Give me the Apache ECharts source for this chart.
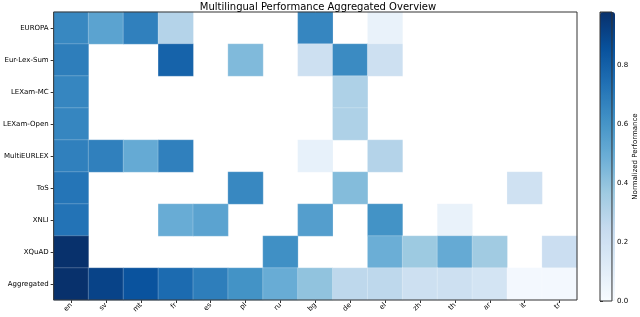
<!DOCTYPE html>
<html><head><meta charset="utf-8">
<script src="https://cdn.jsdelivr.net/npm/echarts@6/dist/echarts.min.js"></script>
<style>html,body{margin:0;padding:0;background:#fff}#c{width:640px;height:317px}</style>
</head><body><div id="c"></div>
<script>
const languages = ['en','sv','mt','fr','es','pl','ru','bg','de','el','zh','th','ar','it','tr'];
const tasks = ['EUROPA','Eur-Lex-Sum','LEXam-MC','LEXam-Open','MultiEURLEX','ToS','XNLI','XQuAD','Aggregated'];
// null = no value (blank cell)
const EUROPA      = [0.65,0.54,0.68,0.30,null,null,null,0.66,null,0.07,null,null,null,null,null];
const EurLexSum   = [0.69,null,null,0.79,null,0.44,null,0.21,0.64,0.21,null,null,null,null,null];
const LEXamMC     = [0.66,null,null,null,null,null,null,null,0.32,null,null,null,null,null,null];
const LEXamOpen   = [0.66,null,null,null,null,null,null,null,0.32,null,null,null,null,null,null];
const MultiEURLEX = [0.68,0.68,0.51,0.68,null,null,null,0.08,null,0.30,null,null,null,null,null];
const ToS         = [0.72,null,null,null,null,0.65,null,null,0.43,null,null,null,null,0.20,null];
const XNLI        = [0.73,null,null,0.50,0.54,null,null,0.56,null,0.61,null,0.07,null,null,null];
const XQuAD       = [0.98,null,null,null,null,null,0.62,null,null,0.49,0.37,0.51,0.36,null,0.22];
const Aggregated  = [0.98,0.91,0.85,0.76,0.69,0.61,0.50,0.40,0.27,0.27,0.21,0.21,0.18,0.02,0.02];
const rows = [EUROPA,EurLexSum,LEXamMC,LEXamOpen,MultiEURLEX,ToS,XNLI,XQuAD,Aggregated];
const colorTicks = [0.0,0.2,0.4,0.6,0.8];
const vmax = 0.982;

const data = [];
rows.forEach((r, yi) => r.forEach((v, xi) => { if (v !== null) data.push([xi, yi, v]); }));

const blues = ['#f7fbff','#deebf7','#c6dbef','#9ecae1','#6baed6','#4292c6','#2171b5','#08519c','#08306b'];
const font = 'DejaVu Sans';
const chart = echarts.init(document.getElementById('c'));
chart.setOption({
  animation: false,
  textStyle: {fontFamily: font},
  title: {text: 'Multilingual Performance Aggregated Overview', left: 313, textAlign: 'center', top: -3,
    textStyle: {fontFamily: font, fontSize: 10, fontWeight: 'normal', color: '#000'}},
  grid: [
    {left: 50, right: 63, top: 12, bottom: 17, show: true, borderColor: '#333', borderWidth: 1, z: 5, backgroundColor: 'transparent'},
    {left: 600, width: 15, top: 12, bottom: 16, show: true, borderColor: '#333', borderWidth: 1, backgroundColor: 'transparent', z: 5}
  ],
  xAxis: [
    {type: 'category', data: languages, gridIndex: 0, splitArea: {show: false},
      axisLine: {show: false}, axisTick: {show: true, alignWithLabel: true, length: 3, lineStyle: {color: '#333'}},
      axisLabel: {rotate: 45, fontSize: 7, color: '#000', margin: 4, fontFamily: font, interval: 0}},
    {type: 'value', gridIndex: 1, show: false, min: 0, max: 1}
  ],
  yAxis: [
    {type: 'category', data: tasks, inverse: true, gridIndex: 0,
      axisLine: {show: false}, axisTick: {show: true, alignWithLabel: true, length: 3, lineStyle: {color: '#333'}},
      axisLabel: {fontSize: 7, color: '#000', margin: 5, fontFamily: font, interval: 0}},
    {type: 'value', gridIndex: 1, position: 'right', min: 0, max: vmax, interval: 0.2,
      axisLine: {show: false}, splitLine: {show: false},
      axisTick: {show: true, length: 3, lineStyle: {color: '#333'}},
      axisLabel: {fontSize: 7, color: '#000', margin: 5, fontFamily: font,
        formatter: v => colorTicks.some(t => Math.abs(t - v) < 1e-6) ? v.toFixed(1) : ''},
      name: 'Normalized Performance', nameLocation: 'middle', nameRotate: 90, nameGap: 20,
      nameTextStyle: {fontSize: 7, color: '#000', fontFamily: font}}
  ],
  visualMap: {
    type: 'continuous', min: 0, max: vmax, calculable: false, show: true,
    left: 600, top: 12, itemWidth: 15, itemHeight: 289, padding: 0, text: ['', ''], textGap: 0,
    seriesIndex: 0, inRange: {color: blues}, textStyle: {fontSize: 1, color: 'transparent'}
  },
  series: [{
    type: 'heatmap', xAxisIndex: 0, yAxisIndex: 0, data: data,
    itemStyle: {borderColor: 'rgba(255,255,255,0.45)', borderWidth: 0.5},
    emphasis: {disabled: true}
  }]
});
</script></body></html>
